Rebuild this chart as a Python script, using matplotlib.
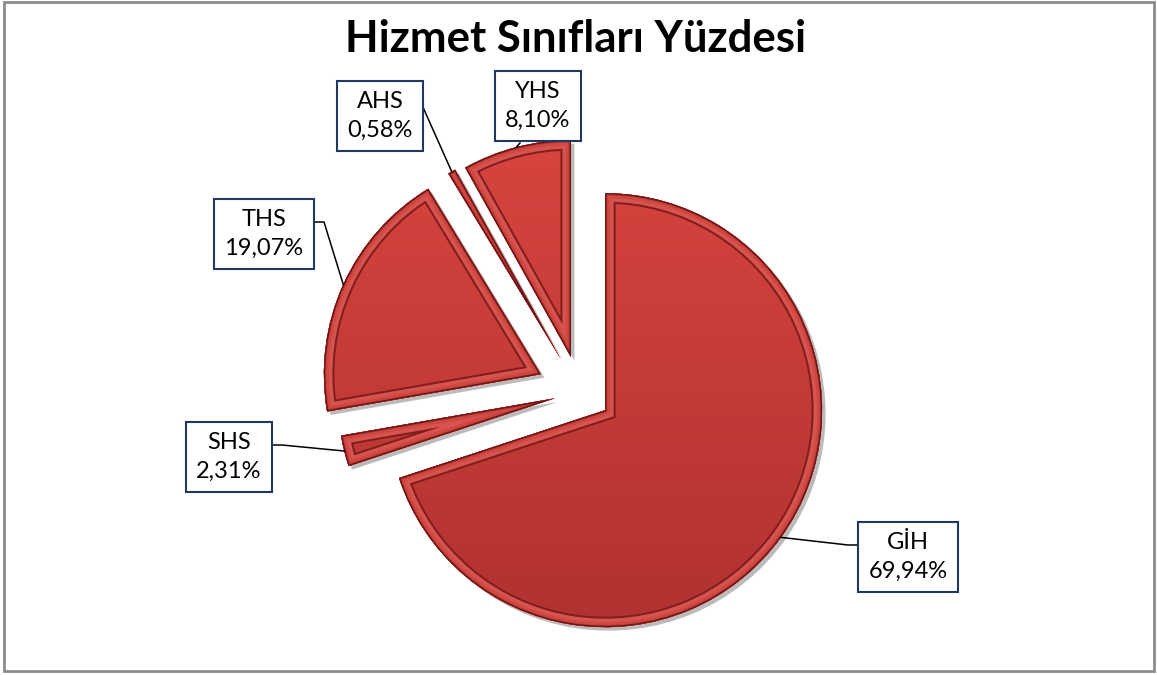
import numpy as np
import matplotlib
matplotlib.use("Agg")
import matplotlib.pyplot as plt
from matplotlib import patches, patheffects
from matplotlib.colors import LinearSegmentedColormap

# data
names = ["GİH", "SHS", "THS", "AHS", "YHS"]
shares = [69.94, 2.31, 19.07, 0.58, 8.10]
title = "Hizmet Sınıfları Yüzdesi"

W, H = 1157, 675
explode = [31, 26, 43, 38, 36]   # pixels, pie uses data units
center = (580, H - 392)
radius = 217

# label box centres and leader anchors (image pixel coords, y down)
box_xy = {"GİH": (908, 557), "SHS": (229, 457), "THS": (264, 234),
          "AHS": (380, 116), "YHS": (538, 106)}
anchors = {"GİH": [(860, 545), (848, 545)], "SHS": [(271, 445), (282, 445)],
           "THS": [(312, 222), (324, 222)], "AHS": [(422, 105)], "YHS": [(520, 143)]}

fig = plt.figure(figsize=(W / 100, H / 100), dpi=100)
ax = fig.add_axes([0, 0, 1, 1])

wedges, _ = ax.pie(shares, explode=explode, center=center, radius=radius,
                   startangle=90, counterclock=False,
                   colors=["#c63c39"] * len(shares),
                   wedgeprops=dict(linewidth=0))

shadow = [patheffects.SimplePatchShadow(offset=(2.5, -2.5), shadow_rgbFace="#555555", alpha=0.4),
          patheffects.Normal()]
cmap = LinearSegmentedColormap.from_list("red", ["#b03230", "#d8443f"])
grad = np.linspace(0, 1, 256).reshape(-1, 1)
# bevel rings: full stroke width in px (half shows inside the wedge), colour
bevel = [(21, "#7e1f1d"), (17, "#d8534e"), (10, "#cf4944"), (5, "#c13a36"), (2.8, "#6a1513")]

for w in wedges:
    w.set_path_effects(shadow)
    im = ax.imshow(grad, cmap=cmap, extent=(300, 860, H - 630, H - 140),
                   origin="lower", aspect="auto", zorder=2)
    im.set_clip_path(w)
    for lwpx, col in bevel:
        p = patches.PathPatch(w.get_path(), transform=w.get_transform(), fill=False,
                              ec=col, lw=lwpx * 0.72, zorder=3, joinstyle="miter")
        ax.add_patch(p)
        p.set_clip_path(w)

for name, v, w in zip(names, shares, wedges):
    bx, by = box_xy[name]
    ax.text(bx, H - by, f"{name}\n{v:.2f}%".replace(".", ","), ha="center", va="center",
            fontsize=17, family="Lato", linespacing=1.45, zorder=6,
            bbox=dict(boxstyle="square,pad=0.45", fc="white", ec="#203864", lw=1.5))
    th = np.deg2rad((w.theta1 + w.theta2) / 2)
    cx, cy = w.center
    pts = [(x, H - y) for x, y in anchors[name]]
    pts.append((cx + w.r * np.cos(th), cy + w.r * np.sin(th)))
    xs, ys = zip(*pts)
    ax.plot(xs, ys, color="black", lw=1.1, zorder=5)

ax.text(576, H - 52, title, ha="center", va="baseline", fontsize=31.5,
        fontweight="bold", family="Lato")

ax.add_patch(patches.Rectangle((3.5, 4), W - 7, H - 6, fill=False, ec="#8c8c8c", lw=2.0))

ax.set_xlim(0, W)
ax.set_ylim(0, H)
ax.axis("off")

fig.savefig("out.png", dpi=100)
